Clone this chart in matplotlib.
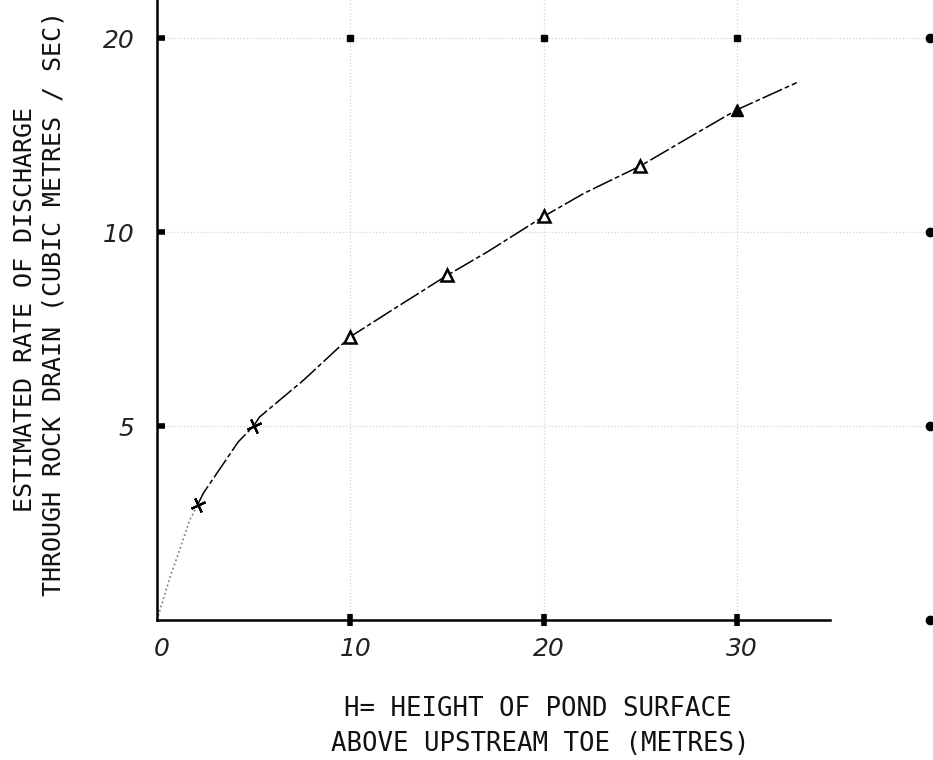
import numpy as np
import matplotlib.pyplot as plt
import matplotlib.transforms as mtransforms

# curve (H in metres, Q in m3/s)
curve_h = [0, 0.67, 1.04, 1.7, 2.1, 2.4, 4.2, 5.0, 5.3, 7.6, 10.0, 12.2, 15.0, 17.1, 20.0, 22.1, 25.0, 27.4, 30.0, 33.1]
curve_q = [0, 1.1, 1.62, 2.58, 2.97, 3.27, 4.59, 5.0, 5.23, 6.19, 7.3, 8.0, 8.88, 9.49, 10.4, 11.0, 11.7, 12.4, 13.15, 13.85]

# plotted points
cross_h = [2.1, 5.0]
cross_q = [2.97, 5.0]
tri_h = [10, 15, 20, 25]
tri_q = [7.3, 8.88, 10.4, 11.7]
tri_fill_h = [30]
tri_fill_q = [13.15]

xticks = [0, 10, 20, 30]
xtick_labels = ["0", "10", "20", "30"]
yticks = [5, 10, 15]
ytick_labels = ["5", "10", "20"]

# graph paper frame dots
frame_x = [10, 20, 30, 40]
frame_y = [0, 5, 10, 15]

fig = plt.figure(figsize=(9.33, 7.6), dpi=100)
ax = fig.add_axes([157 / 933, 140 / 760, 776 / 933, 620 / 760])

ax.set_xlim(0, 40.15)
ax.set_ylim(0, 15.98)

# faint grid of the paper
ax.grid(True, color="#d4d4d4", linestyle=":", linewidth=0.9)

# lower part of the curve is faint/dotted, rest dash-dot
n0 = 5
ax.plot(curve_h[:n0], curve_q[:n0], color="#777777", linestyle=":", linewidth=1.2)
ax.plot(curve_h[n0 - 1:], curve_q[n0 - 1:], color="black", linewidth=1.1,
        dashes=(14, 2, 3, 2))

ax.plot(cross_h, cross_q, linestyle="none", marker=(4, 2, 25), markersize=11,
        markeredgewidth=1.6, color="black")
ax.plot(tri_h, tri_q, linestyle="none", marker="^", markersize=8,
        markerfacecolor="white", markeredgecolor="black", markeredgewidth=1.8)
ax.plot(tri_fill_h, tri_fill_q, linestyle="none", marker="^", markersize=8,
        color="black")

# dots on the top row and right column of the paper frame
ax.plot(frame_x, [frame_y[-1]] * len(frame_x), "s", color="black", markersize=5, clip_on=False)
ax.plot([frame_x[-1]] * len(frame_y), frame_y, "o", color="black", markersize=6, clip_on=False)

for s in ["top", "right"]:
    ax.spines[s].set_visible(False)
ax.spines["left"].set_linewidth(1.8)
ax.spines["bottom"].set_linewidth(1.8)
ax.spines["bottom"].set_bounds(0, 34.8)

ax.set_xticks(xticks)
ax.set_xticklabels(xtick_labels, fontstyle="italic", fontsize=18, color="#222222")
ax.set_yticks(yticks)
ax.set_yticklabels(ytick_labels, fontstyle="italic", fontsize=18, color="#222222")
ax.tick_params(axis="x", direction="inout", length=9, width=4, pad=8)
ax.tick_params(axis="y", direction="in", length=6, width=4, pad=16)
ax.xaxis.get_major_ticks()[0].tick1line.set_visible(False)

# handwritten numbers sit a little right of the tick
shift = mtransforms.ScaledTranslation(5 / 100, 0, fig.dpi_scale_trans)
for lab in ax.get_xticklabels():
    lab.set_transform(lab.get_transform() + shift)

# axis titles, plotter lettering
mono = "DejaVu Sans Mono"
fig.text(538 / 933, 1 - 709 / 760, "H= HEIGHT OF POND SURFACE", family=mono,
         fontsize=18.5, ha="center", va="center", color="#111111")
fig.text(540 / 933, 1 - 744 / 760, "ABOVE UPSTREAM TOE (METRES)", family=mono,
         fontsize=18.5, ha="center", va="center", color="#111111")
fig.text(25 / 933, 1 - 310 / 760, "ESTIMATED RATE OF DISCHARGE", family=mono,
         fontsize=18, rotation=90, ha="center", va="center", color="#111111")
fig.text(54 / 933, 1 - 303 / 760, "THROUGH ROCK DRAIN (CUBIC METRES / SEC)", family=mono,
         fontsize=18, rotation=90, ha="center", va="center", color="#111111")

fig.savefig("out.png", dpi=100)
